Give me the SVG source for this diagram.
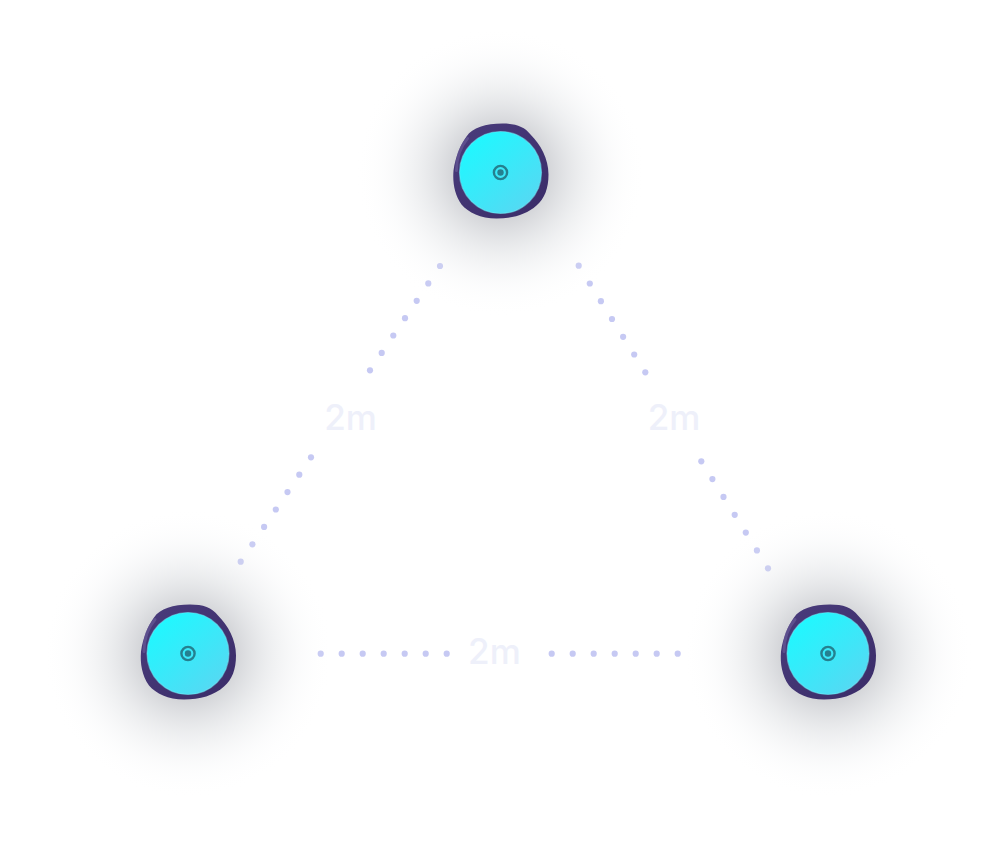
<svg xmlns="http://www.w3.org/2000/svg" width="996" height="867" viewBox="0 0 996 867">
  <defs>
    <radialGradient id="glow" cx="0.5" cy="0.5" r="0.5">
      <stop offset="0" stop-color="#a9abb2" stop-opacity="0.9"/>
      <stop offset="0.3" stop-color="#b7b9bf" stop-opacity="0.65"/>
      <stop offset="0.55" stop-color="#cfd2d6" stop-opacity="0.38"/>
      <stop offset="0.8" stop-color="#eaecef" stop-opacity="0.15"/>
      <stop offset="1" stop-color="#ffffff" stop-opacity="0"/>
    </radialGradient>
    <linearGradient id="face" x1="0.15" y1="0.1" x2="0.85" y2="0.9">
      <stop offset="0" stop-color="#1ff8ff"/>
      <stop offset="1" stop-color="#55d9f3"/>
    </linearGradient>
    <linearGradient id="blobg" x1="0" y1="0" x2="1" y2="1">
      <stop offset="0" stop-color="#4a3c7c"/>
      <stop offset="1" stop-color="#3a2c68"/>
    </linearGradient>
    <g id="node">
      <circle r="145" fill="url(#glow)"/>
      <path d="M -34,-36 C -28,-45 -15,-49 2,-49 C 15,-49 24,-46 30,-38 C 40,-28 48,-14 48,2 C 48,16 44,26 36,33 C 26,42 12,46 -4,46 C -20,46 -32,40 -39,32 C -46,22 -48,10 -47,-2 C -45,-16 -40,-28 -34,-36 Z" fill="url(#blobg)"/>
      <path d="M -44,-2 C -44,-14 -40,-26 -33,-34" fill="none" stroke="#6d5f9c" stroke-opacity="0.6" stroke-width="3" stroke-linecap="round"/>
      <circle r="41" fill="url(#face)"/>
      <circle r="41" fill="none" stroke="#7af0fa" stroke-opacity="0.5" stroke-width="1.2"/>
      <circle r="6.6" fill="none" stroke="#25808f" stroke-width="2.4"/>
      <circle r="3.2" fill="#25808f"/>
    </g>
  </defs>
  <style>
    .dot { fill: #c6c9f3; }
    .lbl { font-family: Inter, "Open Sans", sans-serif; font-size: 35px; font-weight: 500; fill: #eef0fa; text-anchor: middle; }
  </style>
  <rect width="996" height="867" fill="#ffffff"/>

  <g id="connectors">
    <g id="edge-left">
      <circle class="dot" cx="440" cy="266" r="3.1"/>
      <circle class="dot" cx="428.3" cy="283.4" r="3.1"/>
      <circle class="dot" cx="416.7" cy="300.8" r="3.1"/>
      <circle class="dot" cx="405" cy="318.2" r="3.1"/>
      <circle class="dot" cx="393.3" cy="335.5" r="3.1"/>
      <circle class="dot" cx="381.7" cy="352.9" r="3.1"/>
      <circle class="dot" cx="370" cy="370.3" r="3.1"/>
      <circle class="dot" cx="311" cy="457.3" r="3.1"/>
      <circle class="dot" cx="299.3" cy="474.7" r="3.1"/>
      <circle class="dot" cx="287.5" cy="492.1" r="3.1"/>
      <circle class="dot" cx="275.8" cy="509.5" r="3.1"/>
      <circle class="dot" cx="264.1" cy="526.9" r="3.1"/>
      <circle class="dot" cx="252.4" cy="544.3" r="3.1"/>
      <circle class="dot" cx="240.7" cy="561.7" r="3.1"/>
    </g>
    <g id="edge-right">
      <circle class="dot" cx="578.7" cy="265.7" r="3.1"/>
      <circle class="dot" cx="589.8" cy="283.5" r="3.1"/>
      <circle class="dot" cx="600.9" cy="301.2" r="3.1"/>
      <circle class="dot" cx="612" cy="319" r="3.1"/>
      <circle class="dot" cx="623.1" cy="336.8" r="3.1"/>
      <circle class="dot" cx="634.2" cy="354.5" r="3.1"/>
      <circle class="dot" cx="645.3" cy="372.3" r="3.1"/>
      <circle class="dot" cx="701.3" cy="461.3" r="3.1"/>
      <circle class="dot" cx="712.4" cy="479.1" r="3.1"/>
      <circle class="dot" cx="723.5" cy="496.9" r="3.1"/>
      <circle class="dot" cx="734.7" cy="514.8" r="3.1"/>
      <circle class="dot" cx="745.8" cy="532.6" r="3.1"/>
      <circle class="dot" cx="756.9" cy="550.4" r="3.1"/>
      <circle class="dot" cx="768" cy="568.3" r="3.1"/>
    </g>
    <g id="edge-bottom">
      <circle class="dot" cx="320.7" cy="653.7" r="3.1"/>
      <circle class="dot" cx="341.7" cy="653.7" r="3.1"/>
      <circle class="dot" cx="362.7" cy="653.7" r="3.1"/>
      <circle class="dot" cx="383.7" cy="653.7" r="3.1"/>
      <circle class="dot" cx="404.7" cy="653.7" r="3.1"/>
      <circle class="dot" cx="425.7" cy="653.7" r="3.1"/>
      <circle class="dot" cx="446.7" cy="653.7" r="3.1"/>
      <circle class="dot" cx="551.7" cy="653.7" r="3.1"/>
      <circle class="dot" cx="572.7" cy="653.7" r="3.1"/>
      <circle class="dot" cx="593.7" cy="653.7" r="3.1"/>
      <circle class="dot" cx="614.7" cy="653.7" r="3.1"/>
      <circle class="dot" cx="635.7" cy="653.7" r="3.1"/>
      <circle class="dot" cx="656.7" cy="653.7" r="3.1"/>
      <circle class="dot" cx="677.7" cy="653.7" r="3.1"/>
    </g>
    <text class="lbl" x="350.5" y="430">2m</text>
    <text class="lbl" x="674" y="430">2m</text>
    <text class="lbl" x="494.4" y="663.8">2m</text>
  </g>

  <g id="node-top"><use href="#node" x="500.5" y="172.5"/></g>
  <g id="node-left"><use href="#node" x="188" y="653.5"/></g>
  <g id="node-right"><use href="#node" x="828" y="653.5"/></g>
</svg>
